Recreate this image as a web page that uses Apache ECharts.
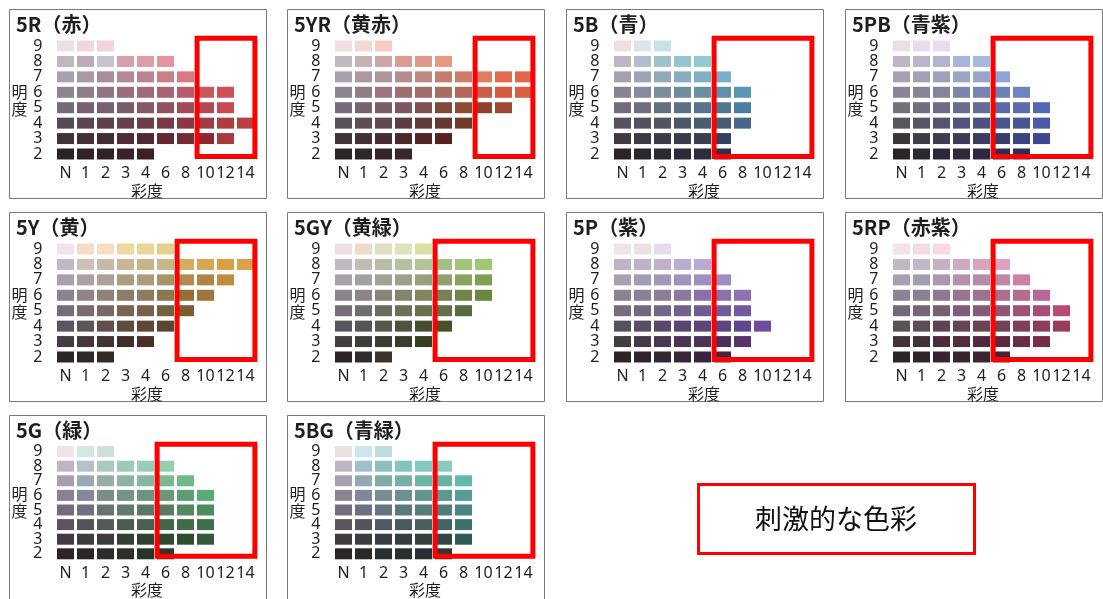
<!DOCTYPE html>
<html><head><meta charset="utf-8">
<script src="https://cdn.jsdelivr.net/npm/echarts@6/dist/echarts.min.js"></script>
<style>html,body{margin:0;padding:0;background:#fff}#c{width:1103px;height:599px}</style>
</head><body><div id="c"></div>
<script>
// ---------- data ----------
const chromaLabels = ['N','1','2','3','4','6','8','10','12','14'];
const valueLabels = [9,8,7,6,5,4,3,2];
const valueTickLabels = ['2','3','4','5','6','7','8','9'];
const hueNames  = ['5R','5YR','5B','5PB','5Y','5GY','5P','5RP','5G','5BG'];
const hueTitles = ['（赤）','（黄赤）','（青）','（青紫）','（黄）','（黄緑）','（紫）','（赤紫）','（緑）','（青緑）'];
// number of colour chips in each value row (value 9 → 2), chips start at N
const chips5R  = [3,6,7,9,9,10,9,5];
const chips5YR = [3,6,10,10,9,7,6,4];
const chips5B  = [3,5,6,7,7,7,6,6];
const chips5PB = [3,5,6,7,8,8,8,7];
const chips5Y  = [6,10,9,8,7,6,5,3];
const chips5GY = [5,8,8,8,7,6,5,3];
const chips5P  = [3,5,6,7,7,8,7,6];
const chips5RP = [3,6,7,8,9,9,8,6];
const chips5G  = [3,6,7,8,8,8,8,6];
const chips5BG = [3,6,7,7,7,7,7,6];
// chroma where the "stimulating colour" frame starts
const stimulusFrom = ['10','10','6','6','8','6','6','6','6','6'];
const legendText = '刺激的な色彩';

// ---------- chip colours (styles) ----------
const colours5R = [
 'ece0e4 eed8de f4d4dc',
 'bfb6bf bcaabc c4c4cc d4a0ac dc9ca8 e4949c',
 'a8a0b0 a898a8 a88c9c b48898 b88490 c88088 d87880',
 '8c8494 8c7c8c 907484 9c6c7c a0687c a86474 b85c6c c85860 d05058',
 '766a78 786070 786070 7a5c68 885866 925060 a04c58 b04a52 c84a50',
 '564a54 5c4450 5c404a 66404a 6c3c48 783a44 883840 a03c44 b03c40 b84040',
 '403438 443034 442c34 522c36 542832 642830 742c34 8c2830 a83c3c',
 '2c2226 302226 30202a 3a2228 3a2022'];
const colours5YR = [
 'f0e0e0 f4d8d4 f8ccc4',
 'c0b8c0 c8b0b4 d0a4a8 dc9c94 e09888 e89880',
 'a8a0ac ac98a0 b0949c b48c90 bc8880 c47c70 cc7c68 e07c60 e06c50 e06848',
 '8c8490 8e7e84 9c7480 9c6e70 a06c68 a86c60 b46458 c85e48 d45a40 d86040',
 '766c7a 786470 7c5c68 7c5660 7e5050 804838 8c4c30 904030 a04838',
 '5a5058 604c54 644850 5c3c40 603c38 643830 703c28',
 '403438 443034 4a2c30 4c2828 502428 582020',
 '2c2426 302426 342428 382628'];
const colours5B = [
 'ece0e4 dde4ec c8e0e8',
 'c0b4c4 b4bcd0 a0c0d0 94c4d0 90c8d4',
 'a4a0b0 9ca4b4 90a8b8 88acc0 80b0c4 78b0c8',
 '8a8292 868a9a 7c8c9c 708ca0 6890a4 6090a8 5898b4',
 '746c7c 6e6e80 647080 5c7088 58748c 507890 4c7ca0',
 '58505c 545060 505464 4c5868 4c5c70 485c74 486688',
 '403a40 3c3a44 3a3a48 383c4c 384050 344060',
 '2c2428 2a2630 2c2834 2c2a38 2c2c3c 2c3048'];
const colours5PB = [
 'ece0e8 e8dcec e8dcf0',
 'c0b4c4 bcb4cc b4b4d0 a8b4dc a4b8e0',
 'a8a0b0 a4a0b8 a0a0bc 9ca4c8 98a4cc 8ca4d8',
 '8c8494 888498 84849c 7c84a8 7884b0 6c80b8 6c84c0',
 '76707c 746c80 6e6c88 6a6c90 646c98 5c68a8 5c6cac 5468b0',
 '5a5460 585468 545470 50547c 4c5080 4c5490 4c5494 4c58a8',
 '3c3438 403a48 3e3c50 3c3c58 3c3c60 383c6c 3c4480 3c4894',
 '2c2428 2c2830 2c2838 302838 2c2844 2c2c50 2c2c58'];
const colours5Y = [
 'f0e4ec f4dcc8 f8dcc4 f0d8a0 ecd498 e4d08c',
 'c0b8c4 ccc0b8 c8b8a8 ccb494 c8b488 c8b888 d0b060 d4a850 d8a040 e0a048',
 'a8a0ac aca0a4 aca098 ac9c84 ac9c7c a89464 b08c50 b08448 c08c40',
 '8c8490 908484 908078 8c7c6c 8c7c60 8c784c 947038 a07440',
 '766c78 786c70 786864 786454 786048 746040 7c5c30',
 '5c5460 5e5454 605048 5c4c40 5c4834 584830',
 '443c44 443838 443430 402c28 4c3028',
 '2c2428 302828 342c24'];
const colours5GY = [
 'ece0e4 ecdcc8 e0e0c0 dce4b8 d8e0a8',
 'c0b8c4 c0bcb4 b8bca8 b4c0a0 b0c498 a0c088 a0c478 a0c870',
 'a8a0ac a4a0a0 a0a094 9ca088 98a07c 90a070 88a460 80a050',
 '8c8490 8c8488 888478 84846c 808460 788058 708448 688840',
 '766c7a 706e6c 6a6c5c 6c7058 687050 607048 586c40',
 '5a5460 565450 545848 4c5440 484c30 485028',
 '443c40 403c38 3c3c30 383c2c 383c24',
 '2c2428 302a2c 3c3428'];
const colours5P = [
 'f0e4e8 ece0e4 e8dcec',
 'c0b4c4 c0b0c8 c0b0cc bcacd0 bca8d4',
 'a8a0b0 a49cb4 a098b8 a094bc a090c0 a08cc4',
 '8c8494 8c8098 8c7c9c 8c78a0 8c70a8 8c70ac 9070b0',
 '766c7c 746880 746488 74608c 705c90 705c98 7458a0',
 '58505c 5a4c64 5a4868 5c4470 5c4478 5c4480 60448c 704c9c',
 '443c44 443a48 483850 4c3454 4c3458 4c3060 583468',
 '2c2428 302430 342834 382838 382440 402840'];
const colours5RP = [
 'f0e4e4 f4dce0 fcd8e0',
 'c0b8c4 c0b8c8 c8b0c4 d0a8c0 d8a4bc e0a0c0',
 'a8a0b0 a49cb0 ac98ac b490ac b48ca8 bc88a8 cc80a8',
 '8c8494 8c8090 907890 987490 a07090 a8708c b46c90 b86898',
 '746878 786478 786074 805c78 885878 905474 a05070 a84c78 b84c70',
 '5a5058 5c4c58 5c4454 644454 6a4454 744054 804058 8c3c5c 983c5c',
 '403438 443038 4c2c3c 502c3c 54283c 5c283c 682c44 782c48',
 '2c2428 302428 382430 382430 3c2430 442434'];
const colours5G = [
 'f0e4e8 d4e8e0 cce0d4',
 'c0b4c4 b4c0cc a8c8c0 9cccb8 94d0b8 90d0b0',
 'a4a0b0 9ca8b4 98aca8 8cb4a4 84b8a0 7cb890 70b888',
 '8a8292 84889c 7c8c8c 749488 6c9480 689878 609c74 58ac78',
 '746c7c 707080 687470 607c70 5c7868 587c60 508860 488c60',
 '5a5460 545458 505c54 4c5c50 486050 40684c 406c48 3c7048',
 '443c40 403c3c 3c3c3c 344034 344034 304830 304c30 34583c',
 '2c2428 2c2428 2c2c2c 2c3028 283428 2c3828'];
const colours5BG = [
 'ece0e4 cce4ec bcdce0',
 'c0b4c4 a0c0cc 8cc0c0 84c4c0 84c8c0 88ccc0',
 'a8a0b0 94a8b0 80aca8 78b0a8 70b4a8 68b4a4 60bca8',
 '8c8494 80889c 788c94 6c9090 649490 5c9898 589c98',
 '746c7c 6c7080 647480 5c787c 587c78 507c7c 4c8484',
 '5c545c 545460 505864 485c60 486060 406468 40706c',
 '403a3c 3c3c44 383c44 343c40 34403c 344448 305858',
 '2c2428 2c2828 283030 283030 283034 2c3838'];

const chipCounts = [chips5R,chips5YR,chips5B,chips5PB,chips5Y,chips5GY,chips5P,chips5RP,chips5G,chips5BG];
const chipColours = [colours5R,colours5YR,colours5B,colours5PB,colours5Y,colours5GY,colours5P,colours5RP,colours5G,colours5BG];

// ---------- layout ----------
const panelLeft = [9, 287, 566, 845];
const panelTop = [9, 212, 415];
const panelW = 257, panelH = 189;
const textColor = '#1e1e1e';

const grids = [], xAxes = [], yAxes = [], series = [], titles = [], graphics = [];

for (let k = 0; k < hueNames.length; k++) {
  const pl = panelLeft[k % 4], pt = panelTop[Math.floor(k / 4)];
  graphics.push({type:'rect', silent:true, z:0,
    shape:{x: pl + 0.5, y: pt + 0.5, width: panelW, height: panelH},
    style:{fill:'#fff', stroke:'#7a7a7a', lineWidth:1}});
  titles.push({text: hueNames[k] + hueTitles[k], left: pl + 7, top: pt + 5, padding: 0,
    textStyle:{fontSize:20, fontWeight:'bold', color:textColor, fontFamily:'"Noto Sans CJK JP", "Noto Sans", sans-serif'}});
  grids.push({left: pl + 46.5, top: pt + 29.3, width: 200, height: 123.4, containLabel:false});
  xAxes.push({type:'value', gridIndex:k, min:-0.5, max:9.5,
    axisLine:{show:false}, axisTick:{show:false}, splitLine:{show:false},
    axisLabel:{customValues:[0,1,2,3,4,5,6,7,8,9], formatter: v => chromaLabels[Math.round(v)],
      showMinLabel:true, showMaxLabel:true, hideOverlap:false,
      margin:4, fontSize:16, color:textColor, fontFamily:'"Noto Sans", sans-serif'},
    name:'彩度', nameLocation:'middle', nameGap:18,
    nameTextStyle:{fontSize:16, color:textColor, padding:[0,17,0,0], fontFamily:'"Noto Sans CJK JP", sans-serif'}});
  // value axis used by the chips and the frame
  yAxes.push({type:'value', gridIndex:k, min:1.5, max:9.5, position:'left',
    axisLine:{show:false}, axisTick:{show:false}, splitLine:{show:false}, axisLabel:{show:false},
    name:'明\n度', nameLocation:'middle', nameRotate:0, nameGap:28,
    nameTextStyle:{fontSize:16, lineHeight:17, color:textColor, padding:[0,0,12,0], fontFamily:'"Noto Sans CJK JP", sans-serif'}});
  // category axis carrying the value tick labels
  yAxes.push({type:'category', gridIndex:k, position:'left', data: valueTickLabels, boundaryGap:true,
    axisLine:{show:false}, axisTick:{show:false}, splitLine:{show:false},
    axisLabel:{interval:0, margin:13, fontSize:16, color:textColor, fontFamily:'"Noto Sans", sans-serif'}});
  const data = [];
  chipCounts[k].forEach((n, r) => {
    const cols = chipColours[k][r].split(' ');
    for (let i = 0; i < n; i++) {
      data.push({value:[i, valueLabels[r]], itemStyle:{color:'#' + cols[i], opacity:1}});
    }
  });
  const fromIdx = chromaLabels.indexOf(stimulusFrom[k]);
  series.push({type:'scatter', xAxisIndex:k, yAxisIndex:2 * k, symbol:'rect', symbolSize:[17,11],
    silent:true, clip:false, data: data, itemStyle:{opacity:1},
    markArea:{silent:true, z:10,
      itemStyle:{color:'rgba(0,0,0,0)', borderColor:'#ff0000', borderWidth:5},
      data:[[{coord:[fromIdx - 0.42, 9.68]}, {coord:[9.47, 1.84]}]]}});
}

// legend box
graphics.push({type:'rect', silent:true, z:5,
  shape:{x:698.5, y:484.5, width:276, height:69},
  style:{fill:'#fff', stroke:'#ff0000', lineWidth:3}});
graphics.push({type:'text', silent:true, z:6, x:836, y:519,
  style:{text: legendText, fill:'#111', fontSize:27, align:'center', verticalAlign:'middle',
    fontFamily:'"Noto Sans CJK JP", sans-serif'}});

const chart = echarts.init(document.getElementById('c'), null, {renderer:'canvas'});
chart.setOption({
  animation:false,
  backgroundColor:'#ffffff',
  title: titles,
  grid: grids, xAxis: xAxes, yAxis: yAxes, series: series,
  graphic: graphics
});
</script></body></html>
